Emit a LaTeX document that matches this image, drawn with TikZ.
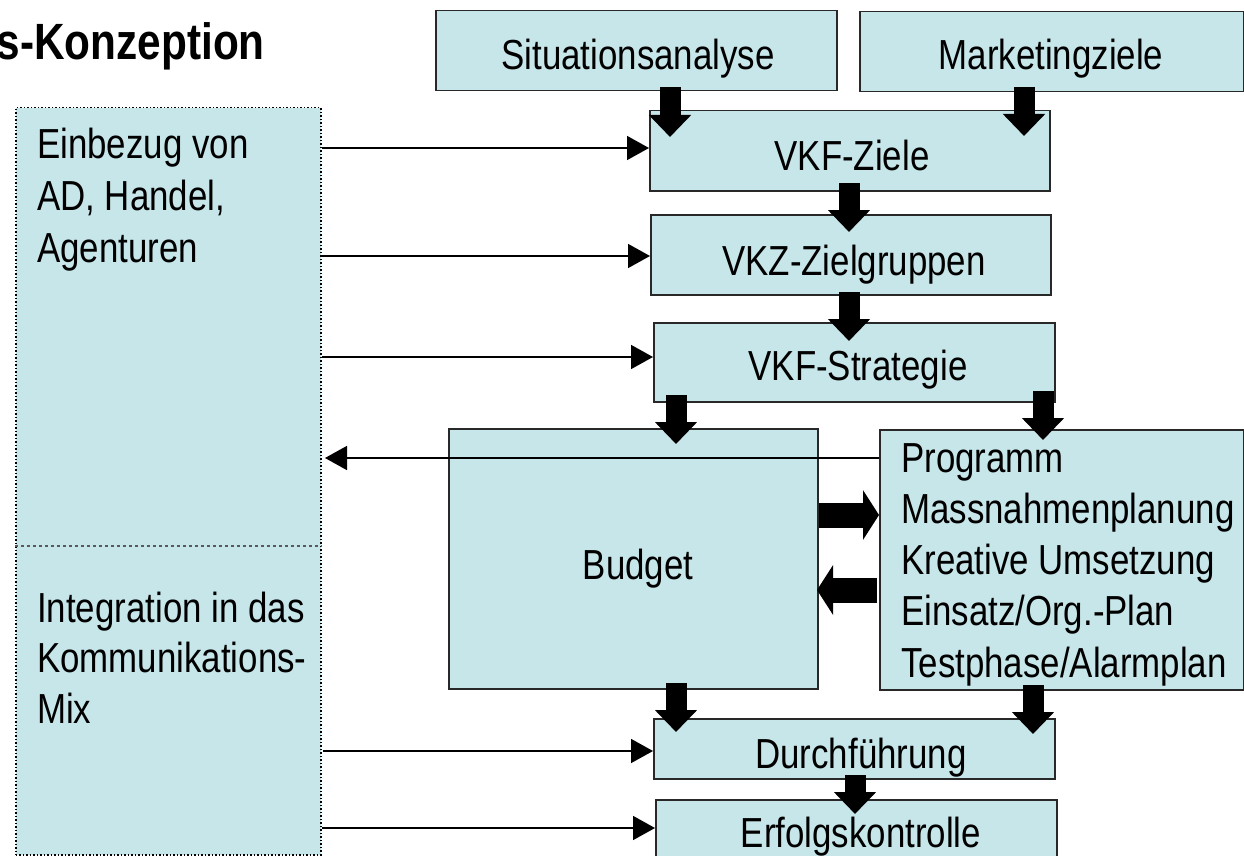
\documentclass[tikz,border=0pt]{standalone}
\usepackage{fontspec}
\setmainfont{Liberation Sans}[FakeStretch=0.83]
\usetikzlibrary{arrows.meta}
\definecolor{boxfill}{RGB}{199,230,233}
\definecolor{boxline}{RGB}{40,40,40}
\tikzset{
  box/.style={draw=boxline, line width=1.5pt, fill=boxfill, anchor=north west, inner sep=0pt},
  lbl/.style={inner sep=0pt, anchor=base, font=\fontsize{42}{51}\selectfont},
  lbll/.style={inner sep=0pt, anchor=base west, font=\fontsize{42}{51}\selectfont},
  fatv/.style={line width=21pt, -{Triangle[length=22pt,width=41pt]}},
  fath/.style={line width=25pt, -{Triangle[length=16pt,width=49pt]}},
  thinarr/.style={line width=1.6pt, -{Triangle[length=22pt,width=24pt]}},
}
\begin{document}
\begin{tikzpicture}[x=1pt,y=-1pt]
\useasboundingbox (0,0) rectangle (1244,856);
% title
\node[inner sep=0pt, anchor=base east, font=\fontsize{51}{60}\selectfont\bfseries] (title) at (265,60) {s-Konzeption};
% left panel
\node[box, draw=black, dotted, line width=1.5pt, minimum width=305pt, minimum height=747pt] (lp) at (15,107) {};
\draw[dashed, draw=gray!70!black, line width=1.2pt] (lp.west |- 0,546) -- (lp.east |- 0,546);
\node[lbll] (t1) at (37,158) {Einbezug von};
\node[lbll] (t2) at (37,210) {AD, Handel,};
\node[lbll] (t3) at (37,262) {Agenturen};
\node[lbll] (t4) at (37,622) {Integration in das};
\node[lbll] (t5) at (37,672) {Kommunikations-};
\node[lbll] (t6) at (37,723) {Mix};
% boxes
\node[box, minimum width=401pt, minimum height=80pt] (sit) at (435,10) {};
\node[lbl] (sitT) at (638,70) {Situationsanalyse};
\node[box, minimum width=384pt, minimum height=80pt] (mkz) at (859,11) {};
\node[lbl] (mkzT) at (1051,70) {Marketingziele};
\node[box, minimum width=400pt, minimum height=80pt] (vkfz) at (649,110) {};
\node[lbl] (vkfzT) at (852,170) {VKF-Ziele};
\node[box, minimum width=400pt, minimum height=80pt] (vkzg) at (650,214) {};
\node[lbl] (vkzgT) at (854,275) {VKZ-Zielgruppen};
\node[box, minimum width=401pt, minimum height=79pt] (strat) at (653,322) {};
\node[lbl] (stratT) at (858,380) {VKF-Strategie};
\node[box, minimum width=369pt, minimum height=260pt] (budget) at (448,428) {};
\node[lbl] (budgetT) at (638,579) {Budget};
\node[box, minimum width=364pt, minimum height=260pt] (prog) at (879,429) {};
\node[inner sep=0pt, anchor=base west, font=\fontsize{42}{51.25}\selectfont, align=left] (progT) at (901,677)
  {Programm\\Massnahmenplanung\\Kreative Umsetzung\\Einsatz/Org.-Plan\\Testphase/Alarmplan};
\node[box, minimum width=401pt, minimum height=60pt] (durch) at (653,718) {};
\node[lbl] (durchT) at (861,768) {Durchführung};
\node[box, minimum width=401pt, minimum height=70pt] (erf) at (655,799) {};
\node[lbl] (erfT) at (861,847) {Erfolgskontrolle};
% thin arrows
\draw[thinarr] (lp.east |- 0,148) -- (vkfz.west |- 0,148);
\draw[thinarr] (lp.east |- 0,256) -- (vkzg.west |- 0,256);
\draw[thinarr] (lp.east |- 0,357) -- (strat.west |- 0,357);
\draw[thinarr] (prog.west |- 0,458) -- (325,458);
\draw[thinarr] (323,751) -- (durch.west |- 0,751);
\draw[thinarr] (lp.east |- 0,828) -- (erf.west |- 0,828);
% fat arrows
\draw[fatv] (670,87) -- (670,137);
\draw[fatv] (1024,87) -- (1024,136);
\draw[fatv] (849,183) -- (849,232);
\draw[fatv] (849,292) -- (849,341);
\draw[fatv] (676,395) -- (676,444);
\draw[fatv] (1043,391) -- (1043,440);
\draw[fatv] (676,683) -- (676,732);
\draw[fatv] (1033,685) -- (1033,734);
\draw[fatv] (855,775) -- (855,814);
\draw[fath] (819,515) -- (879,515);
\draw[fath] (877,590) -- (817,590);
\end{tikzpicture}
\end{document}
